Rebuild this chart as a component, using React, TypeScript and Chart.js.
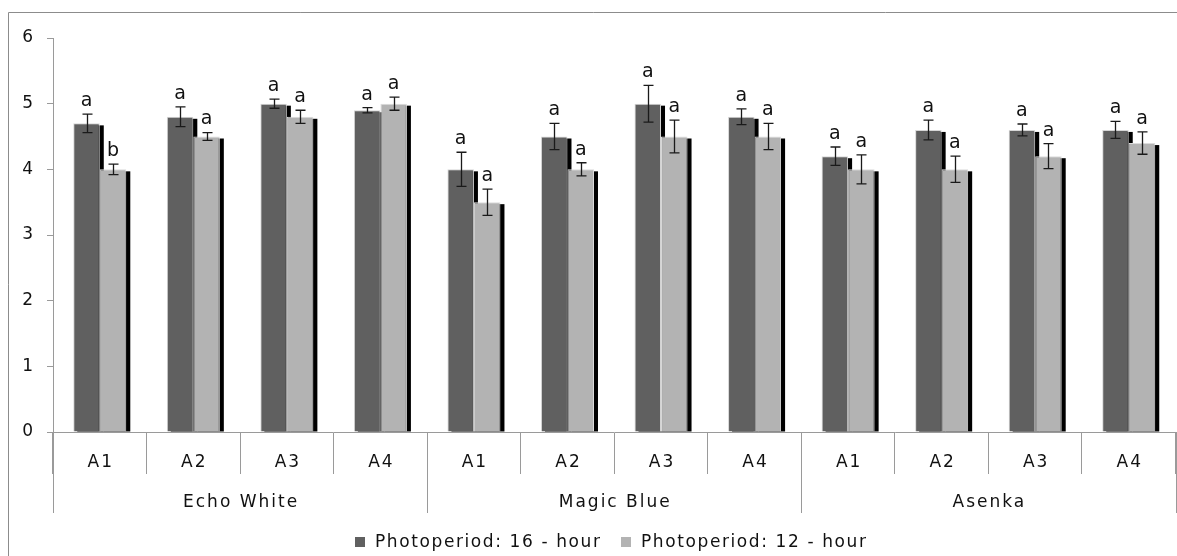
import React, { useEffect, useRef } from "react";
import { Chart, registerables } from "chart.js";

Chart.register(...registerables);

const categories = ["A1", "A2", "A3", "A4", "A1", "A2", "A3", "A4", "A1", "A2", "A3", "A4"];
const groups = ["Echo White", "Magic Blue", "Asenka"];
const groupSize = 4;

const series16Label = "Photoperiod: 16 - hour";
const series12Label = "Photoperiod: 12 - hour";

const h16 = [4.7, 4.8, 5.0, 4.9, 4.0, 4.5, 5.0, 4.8, 4.2, 4.6, 4.6, 4.6];
const h16Err = [0.14, 0.15, 0.07, 0.04, 0.26, 0.2, 0.28, 0.12, 0.14, 0.15, 0.09, 0.13];
const h16Letters = ["a", "a", "a", "a", "a", "a", "a", "a", "a", "a", "a", "a"];

const h12 = [4.0, 4.5, 4.8, 5.0, 3.5, 4.0, 4.5, 4.5, 4.0, 4.0, 4.2, 4.4];
const h12Err = [0.08, 0.06, 0.1, 0.1, 0.2, 0.1, 0.25, 0.2, 0.22, 0.2, 0.19, 0.17];
const h12Letters = ["b", "a", "a", "a", "a", "a", "a", "a", "a", "a", "a", "a"];

const yTicks = [0, 1, 2, 3, 4, 5, 6];

const DARK = "#606060";
const LIGHT = "#b3b3b3";
const AXIS = "#9a9a9a";
const FONT = "DejaVu Sans";

const errs = [h16Err, h12Err];
const letters = [h16Letters, h12Letters];

const customPlugin = {
  id: "custom",
  beforeDatasetsDraw(chart: any) {
    const ctx = chart.ctx;
    const area = chart.chartArea;
    ctx.save();
    ctx.beginPath();
    ctx.rect(area.left, area.top - 50, area.right - area.left + 10, area.bottom - area.top + 50);
    ctx.clip();
    ctx.fillStyle = "#000";
    chart.data.datasets.forEach((_: any, di: number) => {
      const meta = chart.getDatasetMeta(di);
      meta.data.forEach((bar: any) => {
        const w = bar.width;
        const left = bar.x - w / 2 + 4;
        const top = bar.y + 2;
        ctx.fillRect(left, top, w, bar.base - top);
      });
    });
    ctx.restore();
  },
  afterDatasetsDraw(chart: any) {
    const ctx = chart.ctx;
    const y = chart.scales.y;
    ctx.save();
    chart.data.datasets.forEach((ds: any, di: number) => {
      const meta = chart.getDatasetMeta(di);
      meta.data.forEach((bar: any, i: number) => {
        const v = ds.data[i];
        const e = errs[di][i];
        const yt = y.getPixelForValue(v + e);
        const yb = y.getPixelForValue(v - e);
        const cx = Math.round(bar.x) + 0.5;
        ctx.strokeStyle = "#1a1a1a";
        ctx.lineWidth = 1.3;
        ctx.beginPath();
        ctx.moveTo(cx, yt);
        ctx.lineTo(cx, yb);
        ctx.moveTo(cx - 5, yt);
        ctx.lineTo(cx + 5, yt);
        ctx.moveTo(cx - 5, yb);
        ctx.lineTo(cx + 5, yb);
        ctx.stroke();
        ctx.fillStyle = "#111";
        ctx.font = `19px "${FONT}"`;
        ctx.textAlign = "center";
        ctx.textBaseline = "middle";
        ctx.fillText(letters[di][i], bar.x, yt - 13);
      });
    });
    ctx.restore();
  },
  afterDraw(chart: any) {
    const ctx = chart.ctx;
    const x = chart.scales.x;
    const area = chart.chartArea;
    ctx.save();
    // outer frame
    ctx.strokeStyle = "#8c8c8c";
    ctx.lineWidth = 1;
    ctx.beginPath();
    ctx.moveTo(8.5, 600);
    ctx.lineTo(8.5, 12.5);
    ctx.lineTo(1200, 12.5);
    ctx.stroke();

    const bound = (i: number) => {
      if (i <= 0) return area.left;
      if (i >= categories.length) return area.right;
      return (x.getPixelForValue(i - 1) + x.getPixelForValue(i)) / 2;
    };
    // long group dividers
    ctx.strokeStyle = AXIS;
    ctx.beginPath();
    for (let g = 0; g <= groups.length; g++) {
      const px = Math.round(bound(g * groupSize)) + 0.5;
      ctx.moveTo(Math.min(px, 1176.5), area.bottom);
      ctx.lineTo(Math.min(px, 1176.5), 513);
    }
    ctx.stroke();

    ctx.fillStyle = "#111";
    ctx.textAlign = "center";
    ctx.textBaseline = "middle";
    ctx.font = `17px "${FONT}"`;
    (ctx as any).letterSpacing = "2px";
    categories.forEach((c, i) => {
      ctx.fillText(c, x.getPixelForValue(i) + 1, 463);
    });
    groups.forEach((g, gi) => {
      const cx = (bound(gi * groupSize) + bound((gi + 1) * groupSize)) / 2;
      ctx.fillText(g, cx + 1, 503);
    });

    // legend
    (ctx as any).letterSpacing = "1.6px";
    ctx.textAlign = "left";
    const legendItems = chart.data.datasets.map((ds: any) => ({ label: ds.label, color: ds.backgroundColor }));
    const starts = [355, 621];
    legendItems.forEach((it: any, k: number) => {
      ctx.fillStyle = it.color;
      ctx.fillRect(starts[k], 537, 10, 10);
      ctx.fillStyle = "#111";
      ctx.fillText(it.label, starts[k] + 20, 543);
    });
    ctx.restore();
  },
};

export default function App() {
  const ref = useRef<HTMLCanvasElement | null>(null);
  useEffect(() => {
    if (!ref.current) return;
    const chart = new Chart(ref.current, {
      type: "bar",
      data: {
        labels: categories,
        datasets: [
          {
            label: series16Label,
            data: h16,
            backgroundColor: DARK,
            borderColor: "#d6d6d6",
            borderWidth: 1,
            barPercentage: 1,
            categoryPercentage: 0.567,
          },
          {
            label: series12Label,
            data: h12,
            backgroundColor: LIGHT,
            borderColor: "#dcdcdc",
            borderWidth: 1,
            barPercentage: 1,
            categoryPercentage: 0.567,
          },
        ],
      },
      options: {
        responsive: false,
        animation: false,
        devicePixelRatio: 1,
        layout: { padding: { top: 38, right: 1.5, bottom: 0, left: 0 } },
        plugins: { legend: { display: false }, tooltip: { enabled: false } },
        scales: {
          x: {
            afterFit: (s: any) => {
              s.height = 124;
            },
            grid: {
              drawOnChartArea: false,
              drawTicks: true,
              tickLength: 42,
              offset: true,
              color: AXIS,
            },
            border: { display: true, color: AXIS },
            ticks: { display: false },
          },
          y: {
            min: 0,
            max: 6,
            afterFit: (s: any) => {
              s.width = 53;
            },
            afterBuildTicks: (s: any) => {
              s.ticks = yTicks.map((v) => ({ value: v }));
            },
            grid: { drawOnChartArea: false, drawTicks: true, tickLength: 6, color: AXIS },
            border: { display: true, color: AXIS },
            ticks: {
              color: "#111",
              padding: 14,
              font: { family: FONT, size: 17 },
            },
          },
        },
      },
      plugins: [customPlugin],
    });
    return () => chart.destroy();
  }, []);
  return (
    <div style={{ position: "fixed", left: 0, top: 0, width: 1177, height: 556, background: "#fff" }}>
      <canvas ref={ref} width={1177} height={556} />
    </div>
  );
}
